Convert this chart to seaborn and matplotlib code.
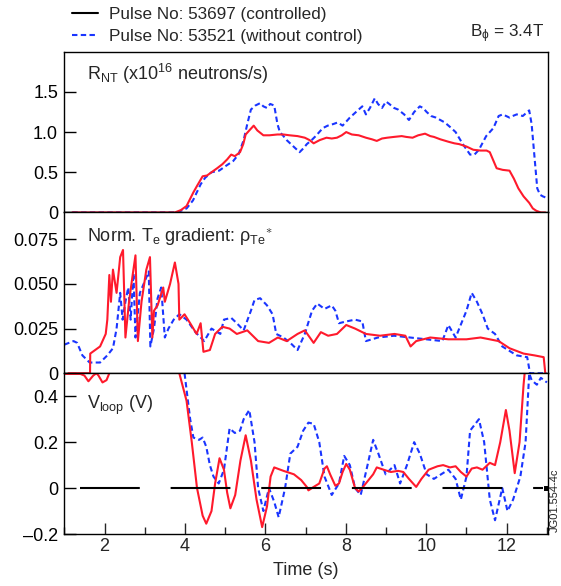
import matplotlib
matplotlib.use("Agg")
import matplotlib.pyplot as plt
import seaborn as sns
from matplotlib.lines import Line2D
from matplotlib.ticker import MultipleLocator

# values (time in s)
rnt_ctrl_t = [1.2, 3.75, 3.9, 4.04, 4.21, 4.3, 4.44, 4.55, 4.66, 4.8, 4.93, 5.05, 5.15, 5.24, 5.37, 5.45, 5.51, 5.6,
              5.71, 5.8, 5.95, 6.1, 6.3, 6.45, 6.6, 6.8, 6.98, 7.1, 7.2, 7.35, 7.52, 7.65, 7.78, 7.9, 8.01, 8.15, 8.32,
              8.5, 8.65, 8.77, 8.9, 9.03, 9.2, 9.39, 9.5, 9.66, 9.8, 9.97, 10.1, 10.19, 10.35, 10.55, 10.7, 10.82,
              11.0, 11.17, 11.35, 11.5, 11.58, 11.75, 11.9, 12.07, 12.18, 12.29, 12.42, 12.56, 12.65, 12.74, 12.85,
              12.96]
rnt_ctrl = [0, 0, 0.03, 0.08, 0.25, 0.33, 0.45, 0.46, 0.5, 0.55, 0.6, 0.66, 0.72, 0.7, 0.75, 0.85, 0.97, 1.02,
            1.08, 1.02, 0.96, 0.96, 0.97, 0.97, 0.96, 0.95, 0.93, 0.9, 0.86, 0.9, 0.93, 0.92, 0.93, 0.96, 1.0, 0.97,
            0.96, 0.93, 0.91, 0.89, 0.92, 0.93, 0.94, 0.95, 0.94, 0.93, 0.96, 0.98, 0.95, 0.94, 0.91, 0.88, 0.86,
            0.85, 0.82, 0.78, 0.77, 0.77, 0.75, 0.55, 0.53, 0.52, 0.42, 0.3, 0.2, 0.12, 0.05, 0.02, 0.0, 0.0]

rnt_free_t = [1.2, 3.8, 4.04, 4.2, 4.39, 4.5, 4.66, 4.85, 5.02, 5.2, 5.33, 5.46, 5.55, 5.64, 5.75, 5.87, 5.95, 6.04,
              6.12, 6.22, 6.3, 6.36, 6.45, 6.53, 6.7, 6.85, 6.95, 7.03, 7.15, 7.25, 7.43, 7.55, 7.69, 7.8, 7.92, 8.1,
              8.32, 8.41, 8.5, 8.6, 8.72, 8.8, 8.9, 9.0, 9.08, 9.2, 9.3, 9.45, 9.57, 9.7, 9.84, 9.92, 10.01, 10.12,
              10.24, 10.35, 10.46, 10.6, 10.73, 10.91, 11.09, 11.2, 11.31, 11.49, 11.67, 11.8, 11.9, 12.07, 12.15,
              12.25, 12.4, 12.56, 12.62, 12.69, 12.76, 12.83, 12.9, 13.0]
rnt_free = [0, 0, 0.05, 0.15, 0.35, 0.43, 0.5, 0.52, 0.58, 0.64, 0.72, 0.9, 1.1, 1.28, 1.33, 1.36, 1.32, 1.3, 1.35,
            1.33, 1.1, 1.0, 0.95, 0.9, 0.82, 0.75, 0.8, 0.85, 0.9, 0.95, 1.05, 1.08, 1.1, 1.12, 1.08, 1.18, 1.28,
            1.32, 1.22, 1.3, 1.42, 1.35, 1.3, 1.38, 1.35, 1.3, 1.28, 1.22, 1.15, 1.25, 1.32, 1.3, 1.25, 1.2, 1.18,
            1.15, 1.12, 1.06, 1.0, 0.85, 0.72, 0.72, 0.78, 0.95, 1.05, 1.2, 1.22, 1.18, 1.2, 1.22, 1.2, 1.27, 1.1,
            0.7, 0.3, 0.22, 0.2, 0.18]

grad_ctrl_t = [1.1, 1.64, 1.645, 1.89, 2.03, 2.07, 2.12, 2.16, 2.21, 2.3, 2.39, 2.46, 2.52, 2.61, 2.7, 2.77, 2.83,
               2.92, 3.04, 3.13, 3.19, 3.23, 3.32, 3.46, 3.5, 3.63, 3.75, 3.84, 3.86, 3.99, 4.13, 4.29, 4.39, 4.46,
               4.62, 4.75, 4.93, 5.11, 5.29, 5.55, 5.82, 6.09, 6.31, 6.53, 6.8, 6.98, 7.2, 7.38, 7.56, 7.78, 8.01,
               8.23, 8.5, 8.85, 9.21, 9.48, 9.61, 9.75, 10.1, 10.55, 11.0, 11.35, 11.8, 12.07, 12.42, 12.69, 12.92,
               12.96]
grad_ctrl = [0, 0, 0.011, 0.015, 0.022, 0.03, 0.055, 0.04, 0.058, 0.045, 0.065, 0.069, 0.02, 0.04, 0.055, 0.066,
             0.018, 0.04, 0.058, 0.065, 0.02, 0.035, 0.038, 0.048, 0.04, 0.05, 0.062, 0.05, 0.03, 0.033, 0.028,
             0.022, 0.028, 0.012, 0.013, 0.022, 0.026, 0.025, 0.022, 0.024, 0.018, 0.017, 0.02, 0.018, 0.022, 0.024,
             0.017, 0.023, 0.021, 0.022, 0.027, 0.025, 0.022, 0.021, 0.022, 0.021, 0.015, 0.018, 0.02, 0.019, 0.019,
             0.02, 0.018, 0.014, 0.011, 0.01, 0.009, 0]

grad_free_t = [1.0, 1.23, 1.32, 1.45, 1.63, 1.89, 2.07, 2.21, 2.3, 2.39, 2.45, 2.52, 2.59, 2.65, 2.72, 2.77, 2.88,
               3.01, 3.1, 3.14, 3.23, 3.32, 3.41, 3.5, 3.59, 3.72, 3.86, 4.04, 4.26, 4.48, 4.66, 4.88, 4.97, 5.15,
               5.29, 5.46, 5.64, 5.73, 5.87, 6.04, 6.18, 6.27, 6.45, 6.62, 6.8, 6.98, 7.16, 7.29, 7.47, 7.65, 7.74,
               7.83, 8.01, 8.23, 8.41, 8.5, 8.8, 9.2, 9.6, 10.0, 10.4, 10.55, 10.73, 10.82, 11.0, 11.13, 11.26, 11.4,
               11.53, 11.71, 11.89, 12.25, 12.51, 12.58, 13.0]
grad_free = [0.016, 0.018, 0.017, 0.01, 0.006, 0.006, 0.01, 0.014, 0.025, 0.045, 0.03, 0.04, 0.048, 0.03, 0.056,
             0.02, 0.045, 0.052, 0.057, 0.015, 0.025, 0.042, 0.048, 0.02, 0.025, 0.03, 0.033, 0.03, 0.023, 0.018,
             0.025, 0.022, 0.03, 0.031, 0.028, 0.024, 0.035, 0.041, 0.042, 0.038, 0.033, 0.022, 0.02, 0.017, 0.013,
             0.022, 0.035, 0.039, 0.036, 0.038, 0.035, 0.028, 0.029, 0.03, 0.029, 0.018, 0.02, 0.021, 0.02, 0.019,
             0.018, 0.027, 0.02, 0.025, 0.035, 0.045, 0.04, 0.033, 0.025, 0.022, 0.015, 0.01, 0.009, 0, 0]

vloop_ctrl_t = [1.0, 1.4, 1.5, 1.6, 1.72, 1.8, 1.85, 1.95, 2.05, 2.12, 2.2, 3.8, 3.86, 4.04, 4.17, 4.3, 4.44, 4.53,
                4.66, 4.75, 4.86, 4.97, 5.05, 5.13, 5.25, 5.38, 5.51, 5.64, 5.78, 5.92, 6.04, 6.13, 6.22, 6.45, 6.71,
                6.89, 7.03, 7.07, 7.2, 7.34, 7.47, 7.53, 7.61, 7.74, 7.83, 7.92, 8.01, 8.1, 8.23, 8.32, 8.45, 8.68,
                8.77, 8.94, 9.12, 9.3, 9.43, 9.57, 9.75, 9.88, 10.06, 10.28, 10.42, 10.59, 10.73, 10.86, 11.0, 11.13,
                11.26, 11.4, 11.58, 11.71, 11.84, 11.98, 12.07, 12.2, 12.32, 12.42, 12.5, 13.0]
vloop_ctrl = [0.497, 0.497, 0.49, 0.465, 0.49, 0.5, 0.49, 0.46, 0.47, 0.5, 0.6, 0.6, 0.5, 0.38, 0.2, 0.0, -0.12,
              -0.155, -0.1, 0.02, 0.13, 0.08, -0.02, -0.088, -0.03, 0.12, 0.23, 0.12, -0.05, -0.17, -0.08, 0.05,
              0.09, 0.075, 0.06, 0.035, 0.005, -0.01, 0.005, 0.02, 0.085, 0.095, 0.06, 0.01, 0.02, 0.07, 0.105,
              0.08, 0.0, -0.015, 0.01, 0.06, 0.09, 0.08, 0.07, 0.075, 0.07, 0.04, 0.005, 0.04, 0.08, 0.095, 0.1,
              0.09, 0.095, 0.07, 0.05, 0.085, 0.09, 0.08, 0.11, 0.1, 0.2, 0.34, 0.25, 0.065, 0.2, 0.45, 0.6, 0.6]

vloop_free_t = [1.0, 3.9, 3.99, 4.13, 4.21, 4.35, 4.44, 4.53, 4.62, 4.71, 4.84, 4.97, 5.11, 5.24, 5.37, 5.46, 5.6,
                5.73, 5.82, 5.95, 6.09, 6.22, 6.33, 6.49, 6.62, 6.8, 6.94, 7.07, 7.2, 7.34, 7.47, 7.65, 7.83, 7.96,
                8.1, 8.23, 8.37, 8.54, 8.68, 8.81, 8.99, 9.21, 9.35, 9.52, 9.7, 9.84, 10.01, 10.19, 10.37, 10.55,
                10.73, 10.86, 11.0, 11.09, 11.31, 11.44, 11.58, 11.71, 11.89, 12.02, 12.16, 12.34, 12.47, 12.56,
                12.62, 12.75, 12.85, 13.0]
vloop_free = [0.6, 0.6, 0.5, 0.3, 0.22, 0.21, 0.22, 0.18, 0.1, 0.05, 0.02, 0.08, 0.26, 0.24, 0.25, 0.3, 0.34, 0.2,
              0.0, -0.1, 0.0, -0.06, -0.127, 0.0, 0.15, 0.18, 0.25, 0.285, 0.28, 0.2, 0.05, -0.03, 0.02, 0.14, 0.1,
              0.0, -0.03, 0.1, 0.21, 0.15, 0.06, 0.1, 0.02, 0.1, 0.2, 0.15, 0.06, 0.04, 0.06, 0.08, 0.04, -0.05,
              0.05, 0.25, 0.3, 0.2, -0.05, -0.14, 0.0, -0.1, -0.05, 0.05, 0.2, 0.5, 0.47, 0.45, 0.48, 0.46]

# zero reference drawn in the V_loop panel
ref_t = [1.39, 12.97]
ref_v = [0, 0]

panel_ticks = [[0, 0.5, 1.0, 1.5], [0, 0.025, 0.05, 0.075], [-0.2, 0, 0.2, 0.4]]
panel_ticklabels = [['0', '0.5', '1.0', '1.5'], ['0', '0.025', '0.050', '0.075'], ['\u20130.2', '0', '0.2', '0.4']]
panel_titles = [r'R$_{\rm NT}$ (x10$^{16}$ neutrons/s)',
                r'Norm. T$_{\rm e}$ gradient: $\rho_{\rm Te}{}^{\ast}$',
                r'V$_{\rm loop}$ (V)']
legend_labels = ['Pulse No: 53697 (controlled)', 'Pulse No: 53521 (without control)']

RED = '#ff1a2c'
BLUE = '#1a35ff'
DASH = (0, (2.6, 1.6))

sns.set_style('ticks')
plt.rcParams['font.family'] = ['Liberation Sans', 'DejaVu Sans']
plt.rcParams['mathtext.fontset'] = 'custom'
plt.rcParams['mathtext.rm'] = 'Liberation Sans'
plt.rcParams['mathtext.it'] = 'Liberation Sans'
plt.rcParams['mathtext.bf'] = 'Liberation Sans:bold'

fig = plt.figure(figsize=(5.61, 5.86), dpi=100)
axes = fig.subplots(3, 1, sharex=True)
fig.subplots_adjust(left=0.1146, right=0.9763, top=0.9118, bottom=0.0887, hspace=0)

series = [(rnt_free_t, rnt_free, rnt_ctrl_t, rnt_ctrl),
          (grad_free_t, grad_free, grad_ctrl_t, grad_ctrl),
          (vloop_free_t, vloop_free, vloop_ctrl_t, vloop_ctrl)]
ylims = [(0, 2.0), (0, 0.09), (-0.2, 0.5)]

for i, ax in enumerate(axes):
    tb, vb, tr, vr = series[i]
    sns.lineplot(x=tb, y=vb, ax=ax, color=BLUE, lw=1.5, linestyle=DASH, estimator=None)
    sns.lineplot(x=tr, y=vr, ax=ax, color=RED, lw=1.5, estimator=None)
    ax.set_ylim(*ylims[i])
    ax.set_yticks(panel_ticks[i])
    ax.set_yticklabels(panel_ticklabels[i])
    ax.set_ylabel('')
    ax.tick_params(axis='y', direction='in', length=8.5, width=1.0, labelsize=13, pad=4.5, colors='black')
    ax.text(0.047, 0.822 if i < 2 else 0.78, panel_titles[i], transform=ax.transAxes,
            fontsize=13, ha='left', va='baseline')
    for sp in ax.spines.values():
        sp.set_linewidth(1.0)
        sp.set_color('black')

# reference zero line for V_loop
sns.lineplot(x=ref_t, y=ref_v, ax=axes[2], color='black', lw=1.5, linestyle=(0, (28.7, 14.8)),
             estimator=None, marker='s', markersize=4, markevery=[1])

axes[2].set_xlim(1.0, 13.02)
axes[2].xaxis.set_major_locator(MultipleLocator(2))
axes[2].xaxis.set_minor_locator(MultipleLocator(1))
axes[2].tick_params(axis='x', which='major', direction='in', length=7.7, width=1.0, labelsize=13, pad=3)
axes[2].tick_params(axis='x', which='minor', direction='in', length=5.2, width=1.0)
for ax in axes[:2]:
    ax.tick_params(axis='x', which='both', bottom=False, labelbottom=False)
axes[2].set_xlabel('Time (s)', fontsize=13, labelpad=5)

handles = [Line2D([], [], color='black', lw=1.5), Line2D([], [], color=BLUE, lw=1.5, linestyle=DASH)]
fig.legend(handles, legend_labels, loc='upper left', bbox_to_anchor=(71.7 / 561, 1 - 6.5 / 586), frameon=False,
           fontsize=12.3, handlelength=1.56, handletextpad=0.6, borderpad=0, borderaxespad=0, labelspacing=0.46)
fig.text(544.3 / 561, 1 - 37.7 / 586, r'B$_{\phi}$ = 3.4T', ha='right', va='baseline', fontsize=12.3)
fig.text(549.5 / 561, 1 - 532 / 586, 'JG01.554-4c', rotation=90, ha='left', va='bottom', fontsize=8,
         color='#222222')

fig.savefig('out.png', dpi=100)
